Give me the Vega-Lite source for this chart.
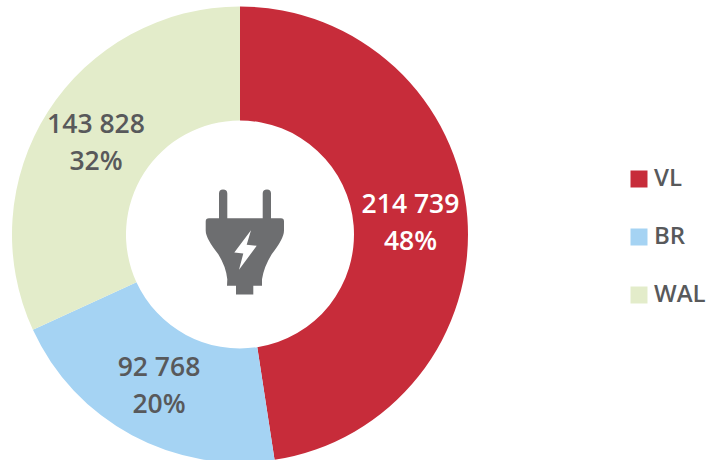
{"$schema":"https://vega.github.io/schema/vega-lite/v6.json","width":706,"height":460,"padding":0,"autosize":{"type":"fit","contains":"padding"},"background":"white","view":{"stroke":null},
"data":{"values":[{"region":"VL","value":214739,"rank":1,"label":"214 739\n48%"},{"region":"BR","value":92768,"rank":2,"label":"92 768\n20%"},{"region":"WAL","value":143828,"rank":3,"label":"143 828\n32%"}]},
"layer":[
{"mark":{"type":"arc","outerRadius":228,"innerRadius":114,"xOffset":-113,"yOffset":7},
"encoding":{"theta":{"field":"value","type":"quantitative","stack":true},"order":{"field":"rank","type":"ordinal"},
"color":{"field":"region","type":"nominal","scale":{"domain":["VL","BR","WAL"],"range":["#c72c3a","#a5d3f3","#e3ecca"]},
"legend":{"orient":"none","legendX":627,"legendY":167,"title":null,"symbolType":"square","symbolSize":289,"symbolStrokeWidth":0,"labelFont":"Open Sans","labelFontSize":24,"labelFontWeight":600,"labelColor":"#58595b","rowPadding":34,"labelOffset":3,"symbolOpacity":1}}}},
{"mark":{"type":"text","radius":171,"xOffset":-113,"yOffset":-10,"font":"Open Sans","fontSize":26.5,"fontWeight":600,"lineBreak":"\n","lineHeight":37,"align":"center","baseline":"middle"},
"encoding":{"theta":{"field":"value","type":"quantitative","stack":true},"order":{"field":"rank","type":"ordinal"},"text":{"field":"label"},
"color":{"condition":{"test":"datum.region==='VL'","value":"white"},"value":"#58595b"}}},
{"data":{"values":[{"icon":"plug"}]},"mark":{"type":"point","filled":true,"opacity":1,"strokeWidth":0,"size":4,"xOffset":-113,"yOffset":5,"color":"#6d6e70",
"shape":"M-21,-14.3 L-21,-39 Q-21,-43 -17,-43 Q-12.7,-43 -12.7,-39 L-12.7,-14.3 L22.7,-14.3 L22.7,-39 Q22.7,-43 27,-43 Q31,-43 31,-39 L31,-14.3 L41,-14.3 Q44,-14.3 44,-11 L44,-2 Q44,6 31.7,21.7 Q24,34 22,46.7 L22,53.3 L13.3,53.3 L13.3,62 L-4,62 L-4,53.3 L-13,53.3 L-12.7,46.7 Q-14,34 -21.7,21.7 Q-34.3,6 -34.3,-2 L-34.3,-11 Q-34.3,-14.3 -31,-14.3 Z"},"encoding":{}},
{"data":{"values":[{"icon":"bolt"}]},"mark":{"type":"point","filled":true,"opacity":1,"strokeWidth":0,"size":4,"xOffset":-113,"yOffset":5,"color":"white",
"shape":"M11,-2.3 L-5.7,20 L3.3,21 L-1,37.3 L16.7,13.3 L6.7,12.3 Z"},"encoding":{}}
]}
